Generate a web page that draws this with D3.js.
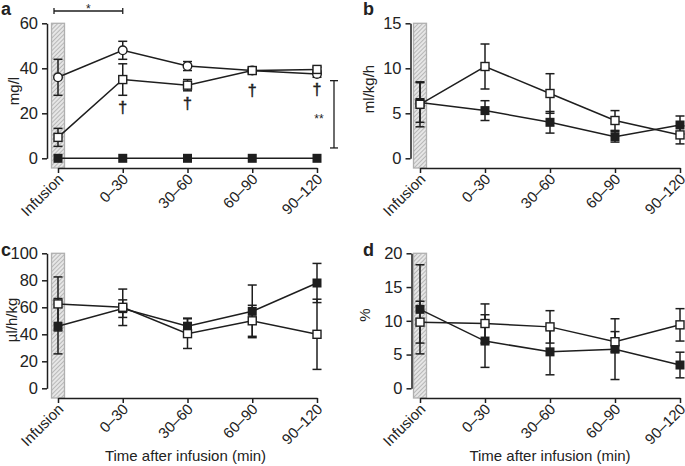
<!DOCTYPE html>
<html>
<head>
<meta charset="utf-8">
<script src="https://cdn.jsdelivr.net/npm/d3@7/dist/d3.min.js"></script>
<style>
  html, body { margin: 0; padding: 0; background: #fff; }
  svg { display: block; }
  text { font-family: Arial, "Liberation Sans", Helvetica, sans-serif; fill: #222; }
</style>
</head>
<body>
<script>
// ---------- DATA ----------
const categories = ["Infusion", "0–30", "30–60", "60–90", "90–120"];

// Panel a (mg/l)
const aTicks = [0, 20, 40, 60];
const aCircle = [36, 48, 41, 39, 37.5];
const aCircleErr = [8, 4, 2, 1.5, 1.5];
const aOpen = [9.3, 35, 32.5, 39, 39.5];
const aOpenErr = [4, 7, 2.5, 1, 1];
const aFilled = [0, 0, 0, 0, 0];
const aFilledErr = [0, 0, 0, 0, 0];
const aDaggerCats = ["0–30", "30–60", "60–90", "90–120"];
const aDaggerVals = [20, 22, 27.5, 28];

// Panel b (ml/kg/h)
const bTicks = [0, 5, 10, 15];
const bOpen = [6.0, 10.2, 7.2, 4.2, 2.6];
const bOpenErr = [2.5, 2.5, 2.2, 1.1, 1.0];
const bFilled = [6.2, 5.3, 4.0, 2.4, 3.7];
const bFilledErr = [2.2, 1.1, 1.2, 0.6, 1.0];

// Panel c (µl/h/kg)
const cTicks = [0, 20, 40, 60, 80, 100];
const cOpen = [62.5, 60, 40.5, 50, 40];
const cOpenErr = [20, 13.5, 11, 11.5, 26];
const cFilled = [46, 59, 46, 57, 78];
const cFilledErr = [20.5, 6.5, 6, 19.5, 14.5];

// Panel d (%)
const dTicks = [0, 5, 10, 15, 20];
const dOpen = [9.8, 9.6, 9.1, 6.9, 9.4];
const dOpenErr = [3.1, 2.9, 2.4, 1.5, 2.4];
const dFilled = [11.7, 7.0, 5.4, 5.8, 3.45];
const dFilledErr = [6.6, 3.9, 3.4, 4.5, 1.9];

// ---------- DRAWING ----------
const W = 685, H = 466;
const svg = d3.select("body").append("svg").attr("width", W).attr("height", H);

const defs = svg.append("defs");
const pat = defs.append("pattern").attr("id", "hatch").attr("patternUnits", "userSpaceOnUse")
  .attr("width", 3).attr("height", 3).attr("patternTransform", "rotate(45)");
pat.append("rect").attr("width", 3).attr("height", 3).attr("fill", "#e6e6e6");
pat.append("line").attr("x1", 0).attr("y1", 0).attr("x2", 0).attr("y2", 3)
  .attr("stroke", "#8a8a8a").attr("stroke-width", 1);

const ink = "#1e1e1e";

function panel(cfg) {
  const g = svg.append("g");
  const x = d3.scalePoint().domain(categories).range([cfg.x0, cfg.x1]);
  const y = d3.scaleLinear().domain([0, cfg.ymax]).range([cfg.yBot, cfg.yTop]);

  // hatched infusion bar
  g.append("rect")
    .attr("x", x(categories[0]) - 6.5).attr("y", cfg.yTop)
    .attr("width", 13).attr("height", cfg.xAxisY - cfg.yTop)
    .attr("fill", "url(#hatch)").attr("stroke", "#b0b0b0").attr("stroke-width", 1.3);

  // y axis
  const ya = g.append("g").attr("transform", `translate(${cfg.yAxisX},0)`)
    .call(d3.axisLeft(y).tickValues(cfg.ticks).tickSize(5).tickSizeOuter(0).tickPadding(4));
  ya.selectAll("path, line").attr("stroke", ink).attr("stroke-width", 1.5);
  ya.selectAll("text").attr("font-size", 16.5).attr("fill", "#222")
    .style("font-family", "Arial, 'Liberation Sans', sans-serif");

  // x axis
  const xa = g.append("g").attr("transform", `translate(0,${cfg.xAxisY})`)
    .call(d3.axisBottom(x).tickSize(5).tickSizeOuter(0));
  xa.selectAll("path, line").attr("stroke", ink).attr("stroke-width", 1.5);
  xa.selectAll("text").attr("font-size", 15).attr("fill", "#222")
    .style("font-family", "Arial, 'Liberation Sans', sans-serif")
    .attr("text-anchor", "end").attr("dy", null).attr("y", 0)
    .attr("transform", "translate(6,12) rotate(-45)");

  // y label
  g.append("text").attr("transform", `translate(${cfg.ylabX},${cfg.ylabY}) rotate(-90)`)
    .attr("text-anchor", "middle").attr("font-size", 15).text(cfg.ylabel);

  // panel letter
  g.append("text").attr("x", cfg.letterX).attr("y", cfg.letterY)
    .attr("font-size", 18).attr("font-weight", "bold").text(cfg.letter);

  // x title
  if (cfg.xtitle) {
    g.append("text").attr("x", (cfg.x0 + cfg.x1) / 2 + cfg.xtitleDx).attr("y", 461)
      .attr("text-anchor", "middle").attr("font-size", 15).text(cfg.xtitle);
  }

  const line = d3.line().x((d, i) => x(categories[i])).y(d => y(d));

  function series(vals, errs) {
    const s = g.append("g");
    vals.forEach((v, i) => {
      const e = errs[i];
      if (!e) return;
      const cx = x(categories[i]);
      s.append("line").attr("x1", cx).attr("x2", cx).attr("y1", y(v - e)).attr("y2", y(v + e))
        .attr("stroke", ink).attr("stroke-width", 1.5);
      [v - e, v + e].forEach(t => {
        s.append("line").attr("x1", cx - 4.5).attr("x2", cx + 4.5).attr("y1", y(t)).attr("y2", y(t))
          .attr("stroke", ink).attr("stroke-width", 1.5);
      });
    });
    s.append("path").datum(vals).attr("d", line).attr("fill", "none")
      .attr("stroke", ink).attr("stroke-width", 1.5);
    return s;
  }
  function markers(s, vals, marker) {
    vals.forEach((v, i) => {
      const cx = x(categories[i]), cy = y(v);
      if (marker === "circle") {
        s.append("circle").attr("cx", cx).attr("cy", cy).attr("r", 4.3)
          .attr("fill", "#fff").attr("stroke", ink).attr("stroke-width", 1.4);
      } else if (marker === "open") {
        s.append("rect").attr("x", cx - 4).attr("y", cy - 4).attr("width", 8).attr("height", 8)
          .attr("fill", "#fff").attr("stroke", ink).attr("stroke-width", 1.4);
      } else {
        s.append("rect").attr("x", cx - 4.5).attr("y", cy - 4.5).attr("width", 9).attr("height", 9)
          .attr("fill", ink);
      }
    });
  }

  cfg.series.forEach(sr => { sr.group = series(sr.vals, sr.errs); });
  cfg.series.forEach(sr => markers(sr.group, sr.vals, sr.marker));

  return { g, x, y };
}

// Panel a
const pa = panel({
  x0: 58, x1: 317, yAxisX: 47, yTop: 23.3, yBot: 158.3, xAxisY: 168, ymax: 60, ticks: aTicks,
  ylabel: "mg/l", ylabX: 19, ylabY: 91, letter: "a", letterX: 1, letterY: 15,
  series: [
    { vals: aFilled, errs: aFilledErr, marker: "filled" },
    { vals: aCircle, errs: aCircleErr, marker: "circle" },
    { vals: aOpen, errs: aOpenErr, marker: "open" }
  ]
});
// daggers
aDaggerCats.forEach((c, i) => {
  pa.g.append("text").attr("x", pa.x(c)).attr("y", pa.y(aDaggerVals[i]))
    .attr("text-anchor", "middle").attr("font-size", 16)
    .style("font-family", "Arial, 'Liberation Sans', sans-serif")
    .style("fill", "#222").style("stroke", "#222").style("stroke-width", 0.5)
    .text("†");
});
// significance brackets
const br = pa.g.append("g").attr("stroke", ink).attr("stroke-width", 1.3);
const bx0 = pa.x(categories[0]) - 4, bx1 = pa.x(categories[1]);
br.append("line").attr("x1", bx0).attr("x2", bx1).attr("y1", 11).attr("y2", 11);
br.append("line").attr("x1", bx0).attr("x2", bx0).attr("y1", 8).attr("y2", 14);
br.append("line").attr("x1", bx1).attr("x2", bx1).attr("y1", 8).attr("y2", 14);
pa.g.append("text").attr("x", (bx0 + bx1) / 2).attr("y", 13).attr("text-anchor", "middle")
  .attr("font-size", 12).text("*");
const vx = 334, vy0 = pa.y(34.5), vy1 = pa.y(4.6);
br.append("line").attr("x1", vx).attr("x2", vx).attr("y1", vy0).attr("y2", vy1);
br.append("line").attr("x1", vx - 4).attr("x2", vx + 4).attr("y1", vy0).attr("y2", vy0);
br.append("line").attr("x1", vx - 4).attr("x2", vx + 4).attr("y1", vy1).attr("y2", vy1);
pa.g.append("text").attr("x", 319).attr("y", 123).attr("text-anchor", "middle")
  .attr("font-size", 12).text("**");

// Panel b
panel({
  x0: 420, x1: 680, yAxisX: 410.5, yTop: 23.3, yBot: 158.3, xAxisY: 168, ymax: 15, ticks: bTicks,
  ylabel: "ml/kg/h", ylabX: 374, ylabY: 89, letter: "b", letterX: 363, letterY: 15,
  series: [
    { vals: bFilled, errs: bFilledErr, marker: "filled" },
    { vals: bOpen, errs: bOpenErr, marker: "open" }
  ]
});

// Panel c
panel({
  x0: 58, x1: 317, yAxisX: 47, yTop: 253.3, yBot: 388.3, xAxisY: 398, ymax: 100, ticks: cTicks,
  ylabel: "µl/h/kg", ylabX: 17, ylabY: 320, letter: "c", letterX: 1, letterY: 256,
  xtitle: "Time after infusion (min)", xtitleDx: -2,
  series: [
    { vals: cFilled, errs: cFilledErr, marker: "filled" },
    { vals: cOpen, errs: cOpenErr, marker: "open" }
  ]
});

// Panel d
panel({
  x0: 420, x1: 680, yAxisX: 411.5, yTop: 253.3, yBot: 388.3, xAxisY: 398, ymax: 20, ticks: dTicks,
  ylabel: "%", ylabX: 370, ylabY: 315, letter: "d", letterX: 363, letterY: 256,
  xtitle: "Time after infusion (min)", xtitleDx: 0,
  series: [
    { vals: dFilled, errs: dFilledErr, marker: "filled" },
    { vals: dOpen, errs: dOpenErr, marker: "open" }
  ]
});
</script>
</body>
</html>
